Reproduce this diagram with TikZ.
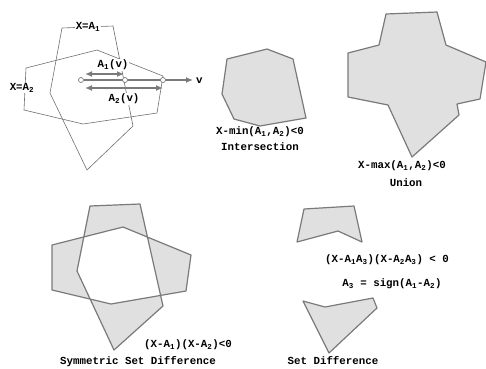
\documentclass[tikz,border=0pt]{standalone}
\usepackage{fontspec}
\setmonofont{Liberation Mono}
\usetikzlibrary{arrows.meta}
\newcommand\sbs[1]{\textsubscript{#1}}
\definecolor{edgegray}{HTML}{7A7A7A}
\definecolor{thingray}{HTML}{707070}
\definecolor{fillgray}{HTML}{E0E0E0}
\tikzset{
  lbl/.style={font=\ttfamily\bfseries\fontsize{10.8}{12}\selectfont, inner sep=1pt, text=black},
  wlbl/.style={lbl, fill=white},
  thinpoly/.style={draw=thingray, line width=0.6pt},
  region/.style={draw=edgegray, fill=fillgray, line width=1.2pt, line join=round},
  dot/.style={circle, draw=edgegray, fill=white, line width=0.7pt, minimum size=5pt, inner sep=0pt},
  arr/.style={draw=edgegray, line width=1.6pt, -{Latex[length=7pt,width=6pt]}},
  darr/.style={draw=edgegray, line width=1.6pt, {Latex[length=7pt,width=6pt]}-{Latex[length=7pt,width=6pt]}}
}
\begin{document}
\begin{tikzpicture}[x=1pt,y=-1pt]
\useasboundingbox (0,0) rectangle (486,368);
% ---- top-left construction ----
\draw[thinpoly] (62,28) -- (113,26) -- (133,126) -- (87,170) -- (50,93) -- cycle;
\draw[thinpoly] (26,68) -- (97,50) -- (163,76) -- (157,113) -- (83,124) -- (24,110) -- cycle;
\node[wlbl] (xa1) at (88,27) {X=A\sbs{1}};
\node[wlbl] (xa2) at (22,88) {X=A\sbs{2}};
\node[dot] (o) at (81,80) {};
\coordinate (vend) at (193,80);
\draw[arr] (o) -- (vend);
\node[dot] (p1) at (125,80) {};
\node[dot] (p2) at (163,80) {};
\node[lbl, anchor=west] (v) at (195,81) {v};
\coordinate (a1s) at (85,74);
\coordinate (a1e) at (124,74);
\coordinate (a2s) at (85,88);
\coordinate (a2e) at (163,88);
\draw[darr] (a1s) -- (a1e);
\draw[darr] (a2s) -- (a2e);
\node[wlbl] (a1v) at (113,65) {A\sbs{1}(v)};
\node[wlbl] (a2v) at (124,99) {A\sbs{2}(v)};
% ---- intersection ----
\draw[region] (227,59) -- (267,49) -- (293,59) -- (306,118) -- (260,126) -- (234,119) -- (222,94) -- cycle;
\node[lbl] (imin) at (260,132) {X-min(A\sbs{1},A\sbs{2})<0};
\node[lbl] (iname) at (260,147) {Intersection};
% ---- union ----
\draw[region] (386,14) -- (437,12) -- (446,45) -- (486,62) -- (480,99) -- (457,104) -- (459,115) -- (412,157) -- (388,105) -- (348,97) -- (348,53) -- (379,45) -- cycle;
\node[lbl] (umax) at (402,166) {X-max(A\sbs{1},A\sbs{2})<0};
\node[lbl] (uname) at (406,183) {Union};
% ---- symmetric difference ----
\draw[region, even odd rule] (90,206) -- (140,204) -- (163,306) -- (114,350) -- (77,271) -- cycle
  (52,245) -- (123,227) -- (191,255) -- (186,291) -- (111,304) -- (52,290) -- cycle;
\node[lbl] (sform) at (188,345) {(X-A\sbs{1})(X-A\sbs{2})<0};
\node[lbl, anchor=base] (sname) at (138,364) {Symmetric Set Difference};
% ---- set difference ----
\draw[region] (304,209) -- (354,206) -- (362,242) -- (338,231) -- (297,242) -- cycle;
\draw[region] (303,301) -- (325,307) -- (373,298) -- (377,308) -- (329,353) -- cycle;
\node[lbl] (dform) at (387,260) {(X-A\sbs{1}A\sbs{3})(X-A\sbs{2}A\sbs{3}) < 0};
\node[lbl] (dsign) at (392,284) {A\sbs{3} = sign(A\sbs{1}-A\sbs{2})};
\node[lbl, anchor=base] (dname) at (333,364) {Set Difference};
\end{tikzpicture}
\end{document}
